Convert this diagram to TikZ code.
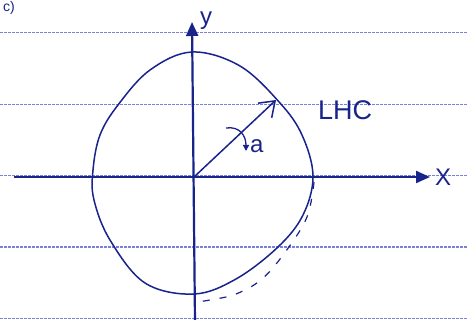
\documentclass[tikz,border=0pt]{standalone}
\usepackage{fontspec}
\setmainfont{Liberation Sans}
\usetikzlibrary{arrows.meta,positioning}
\definecolor{ink}{RGB}{25,35,140}
\definecolor{rule}{RGB}{120,130,220}
\tikzstyle{axis}=[draw=ink,line width=2.2pt,-{Triangle[length=14pt,width=12pt]}]
\tikzstyle{hand}=[draw=ink,line width=1.5pt]
\tikzstyle{lbl}=[text=ink,font=\fontsize{24}{26}\selectfont,inner sep=0pt]
\tikzstyle{ruled}=[draw=rule,line width=1pt,dash pattern=on 3pt off 1pt]

\begin{document}
\begin{tikzpicture}[x=1pt,y=-1pt]
\useasboundingbox (0,0) rectangle (468,320);
\fill[white] (0,0) rectangle (468,320);
% paper lines
\foreach \yy in {33,105,176,247,318}
  \draw[ruled] (0,\yy) -- (468,\yy);
% axes
\coordinate (O) at (194,177);
\coordinate (xs) at (14,177);
\coordinate (xe) at (430,177);
\coordinate (ys) at (195,322);
\coordinate (ye) at (192,22);
\draw[axis] (xs) -- (xe);
\draw[axis] (ys) -- (ye);
\node (ylab) [lbl, anchor=south west] at (200,30) {y};
\node (xlab) [lbl, right=5pt of xe] {X};
\node (part) [lbl, font=\fontsize{14}{16}\selectfont, anchor=north west] at (3,1) {c)};
% polarisation curve
\draw[hand] plot[smooth cycle, tension=0.6] coordinates {
  (192,52) (240,66) (280,103) (302,135) (313,176) (303,215) (278,247)
  (236,279) (194,294) (145,283) (110,240) (94,200) (93,170) (100,135)
  (118,105) (150,70)};
\draw[hand,line width=1.2pt,dash pattern=on 7pt off 10pt] plot[smooth, tension=0.6] coordinates {
  (314,182) (307,217) (286,251) (262,279) (236,294) (210,300) (196,302)};
% field vector
\coordinate (tip) at (276,100);
\draw[hand,-{Straight Barb[length=14pt,width=20pt,line width=1.5pt]}] (O) -- (tip);
\node (lhc) [lbl, font=\fontsize{27}{29}\selectfont, anchor=west] at (318,110) {LHC};
% rotation sense
\coordinate (r1) at (226,128);
\coordinate (r2) at (246,151);
\draw[hand,line width=1.3pt,-{Triangle[length=6pt,width=6pt]}] (r1) .. controls (240,126) and (246,136) .. (r2);
\node (alab) [lbl, anchor=west] at (250,146) {a};
\end{tikzpicture}
\end{document}
